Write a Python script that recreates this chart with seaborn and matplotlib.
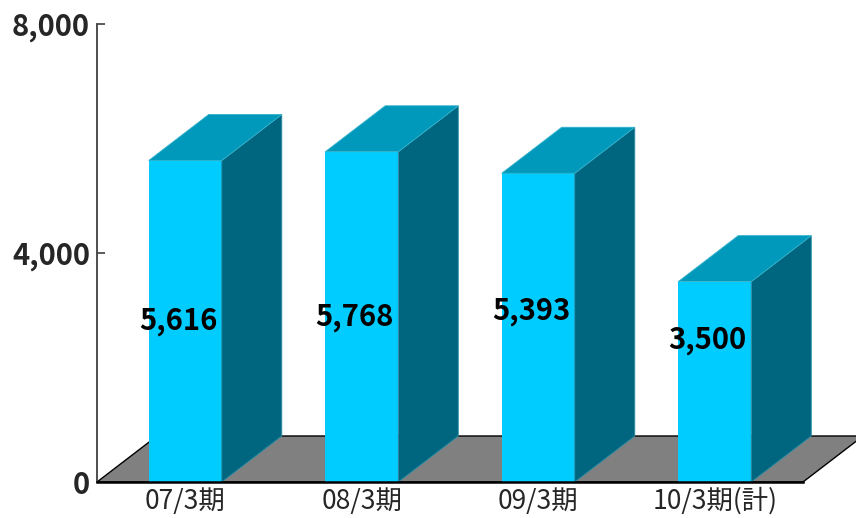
import matplotlib
matplotlib.use("Agg")
import matplotlib.pyplot as plt
import seaborn as sns
import pandas as pd
from matplotlib.patches import Polygon

# Sales per fiscal period
periods = ["07/3期", "08/3期", "09/3期", "10/3期(計)"]
sales = [5616, 5768, 5393, 3500]
y_ticks = [0, 4000, 8000]
y_tick_labels = ["0", "4,000", "8,000"]

# Vertical nudges (pixels) for the value labels inside the bars
label_nudge_px = [0, 0, 17, 42]

FRONT = "#00CCFF"
SIDE = "#00667F"
TOP = "#0099BB"
FLOOR = "#808080"
DEPTH_PX = (60, 46)  # extrusion of the pseudo-3D boxes, in pixels

sns.set_theme(style="white")
plt.rcParams["font.family"] = ["Noto Sans CJK JP", "DejaVu Sans"]

fig = plt.figure(figsize=(8.56, 5.18), dpi=100)
ax = fig.add_axes([97 / 856, 36 / 518, 706 / 856, 458 / 518])

df = pd.DataFrame({"period": periods, "sales": sales})
sns.barplot(data=df, x="period", y="sales", color=FRONT, saturation=1,
            width=0.414, linewidth=0, ax=ax, zorder=3)

ax.set_xlim(-0.5, len(periods) - 0.5)
ax.set_ylim(y_ticks[0], y_ticks[-1])

# convert the pixel depth into data units
inv = ax.transData.inverted()
x0, y0 = inv.transform((0, 0))
x1, y1 = inv.transform(DEPTH_PX)
dx, dy = x1 - x0, y1 - y0

# floor
xl, xr = ax.get_xlim()
floor = Polygon([(xl, 0), (xr, 0), (xr + dx, dy), (xl + dx, dy)],
                closed=True, facecolor=FLOOR, edgecolor="black",
                linewidth=1.0, clip_on=False, zorder=1)
ax.add_patch(floor)

# side and top faces of each box
for bar in ax.patches[:]:
    if bar is floor:
        continue
    left = bar.get_x()
    right = left + bar.get_width()
    h = bar.get_height()
    side = Polygon([(right, 0), (right + dx, dy), (right + dx, h + dy), (right, h)],
                   closed=True, facecolor=SIDE, edgecolor="#2a8fa8",
                   linewidth=0.6, clip_on=False, zorder=3)
    top = Polygon([(left, h), (right, h), (right + dx, h + dy), (left + dx, h + dy)],
                  closed=True, facecolor=TOP, edgecolor="#33b3cc",
                  linewidth=0.6, clip_on=False, zorder=3)
    ax.add_patch(side)
    ax.add_patch(top)

# value labels
for i, v in enumerate(sales):
    ax.annotate(f"{v:,}", xy=(i, v / 2), xytext=(-7, label_nudge_px[i]),
                textcoords="offset pixels", ha="center", va="center",
                fontsize=21, fontweight="bold", color="black", zorder=6)

# axes styling
ax.spines["top"].set_visible(False)
ax.spines["right"].set_visible(False)
ax.spines["left"].set_color("#404040")
ax.spines["left"].set_linewidth(1.3)
ax.spines["bottom"].set_color("black")
ax.spines["bottom"].set_linewidth(1.8)
ax.spines["bottom"].set_zorder(5)

ax.set_yticks(y_ticks)
ax.set_yticklabels(y_tick_labels)
ax.tick_params(axis="y", left=True, direction="in", length=6, width=1.2,
               color="#404040", pad=5, labelsize=21)
for lbl in ax.get_yticklabels():
    lbl.set_fontweight("bold")

ax.set_xticks(range(len(periods)))
ax.set_xticklabels(periods)
ax.set_xticks([i + 0.5 for i in range(len(periods))], minor=True)
ax.tick_params(axis="x", which="major", bottom=False, pad=-2, labelsize=19)
ax.tick_params(axis="x", which="minor", bottom=True, direction="in",
               length=5, width=1.5, color="#303030")
ax.set_xlabel("")
ax.set_ylabel("")

fig.savefig("out.png", dpi=100)
